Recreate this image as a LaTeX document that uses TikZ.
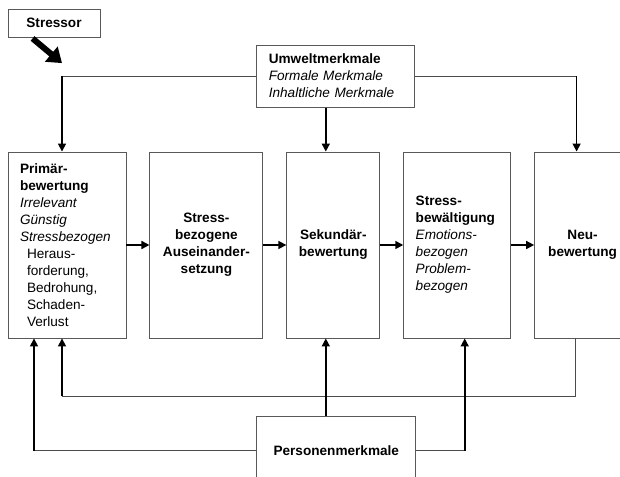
\documentclass[tikz,border=0pt]{standalone}
\usepackage{fontspec}
\setmainfont{Liberation Sans}
\usetikzlibrary{arrows.meta, positioning}

\newcommand{\einr}{\hspace*{7pt}}

\begin{document}
\begin{tikzpicture}[
	x=1pt, y=-1pt,
	font=\fontsize{13.6}{17}\selectfont,
	box/.style={draw=black!65, line width=0.9pt, inner xsep=12pt, inner ysep=0pt, minimum height=186pt},
	lbox/.style={box, align=left},
	cbox/.style={box, align=center, font=\fontsize{13.6}{17}\selectfont\bfseries},
	link/.style={draw=black!70, line width=0.9pt},
	arrow/.style={-{Triangle[length=8pt,width=8pt]}, line width=1.6pt},
	fat/.style={-{Triangle[length=14pt,width=19pt]}, line width=6pt},
	node distance=23pt
	]
	
	\useasboundingbox (0,0) rectangle (620,476);
	\clip (0,0) rectangle (620,476);
	
	% -------------------------------
	% KETTE DER BEWERTUNGEN
	% -------------------------------
	\node[lbox, text width=94pt] (prim) at (67,245) {
		\textbf{Primär-}\\
		\textbf{bewertung}\\
		\textit{Irrelevant}\\
		\textit{Günstig}\\
		\textit{Stressbezogen}\\
		\einr Heraus-\\
		\einr forderung,\\
		\einr Bedrohung,\\
		\einr Schaden-\\
		\einr Verlust
	};
	\node[cbox, minimum width=113pt, right=of prim] (aus) {Stress-\\bezogene\\Auseinander-\\setzung};
	\node[cbox, minimum width=93pt, right=of aus] (sek) {Sekundär-\\bewertung};
	\node[lbox, text width=83pt, right=of sek] (bew) {
		\textbf{Stress-}\\
		\textbf{bewältigung}\\
		\textit{Emotions-}\\
		\textit{bezogen}\\
		\textit{Problem-}\\
		\textit{bezogen}
	};
	\node[cbox, minimum width=96pt, right=of bew] (neu) {Neu-\\bewertung};
	
	% -------------------------------
	% MERKMALE
	% -------------------------------
	\node[lbox, text width=134pt, minimum height=62pt, above=44pt of sek, xshift=2.5pt] (umw) {
		\textbf{Umweltmerkmale}\\
		\textit{Formale Merkmale}\\
		\textit{Inhaltliche Merkmale}
	};
	\node[cbox, minimum width=159pt, minimum height=68pt, below=78pt of sek, xshift=3pt] (pers) {Personenmerkmale};
	\node[cbox, minimum width=92pt, minimum height=28pt] (stressor) at (54,23) {Stressor};
	
	% -------------------------------
	% PFEILE
	% -------------------------------
	\draw[arrow] (prim) -- (aus);
	\draw[arrow] (aus) -- (sek);
	\draw[arrow] (sek) -- (bew);
	\draw[arrow] (bew) -- (neu);
	
	% Umweltmerkmale
	\coordinate (p1) at ([xshift=-5pt]prim.north);
	\coordinate (p2) at ([xshift=-6pt]neu.north);
	\draw[link] (umw.west) -- (umw.west -| p1);
	\draw[arrow] (umw.west -| p1) -- (p1);
	\draw[link] (umw.east) -- (umw.east -| p2);
	\draw[arrow] (umw.east -| p2) -- (p2);
	\draw[arrow] ([xshift=-10pt]umw.south) -- ([xshift=-10pt]umw.south |- sek.north);
	
	% Stressor
	\coordinate (hit) at ([yshift=13pt]umw.west -| p1);
	\draw[fat] ([xshift=25pt, yshift=-1pt]stressor.south west) -- (hit);
	
	% Rueckkopplung
	\coordinate (q1) at ([xshift=-7pt]neu.south);
	\coordinate (q2) at ([xshift=-5pt]prim.south);
	\coordinate (fb) at ([yshift=-58pt]q1);
	\draw[link] (q1) -- (fb) -- (fb -| q2);
	\draw[arrow] (fb -| q2) -- (q2);
	
	% Personenmerkmale
	\coordinate (r1) at ([xshift=-33pt]prim.south);
	\coordinate (r2) at ([xshift=7.5pt]bew.south);
	\draw[link] (pers.west) -- (pers.west -| r1);
	\draw[arrow] (pers.west -| r1) -- (r1);
	\draw[link] (pers.east) -- (pers.east -| r2);
	\draw[arrow] (pers.east -| r2) -- (r2);
	\draw[arrow] ([xshift=-10.5pt]pers.north) -- ([xshift=-10.5pt]pers.north |- sek.south);
	
\end{tikzpicture}
\end{document}
